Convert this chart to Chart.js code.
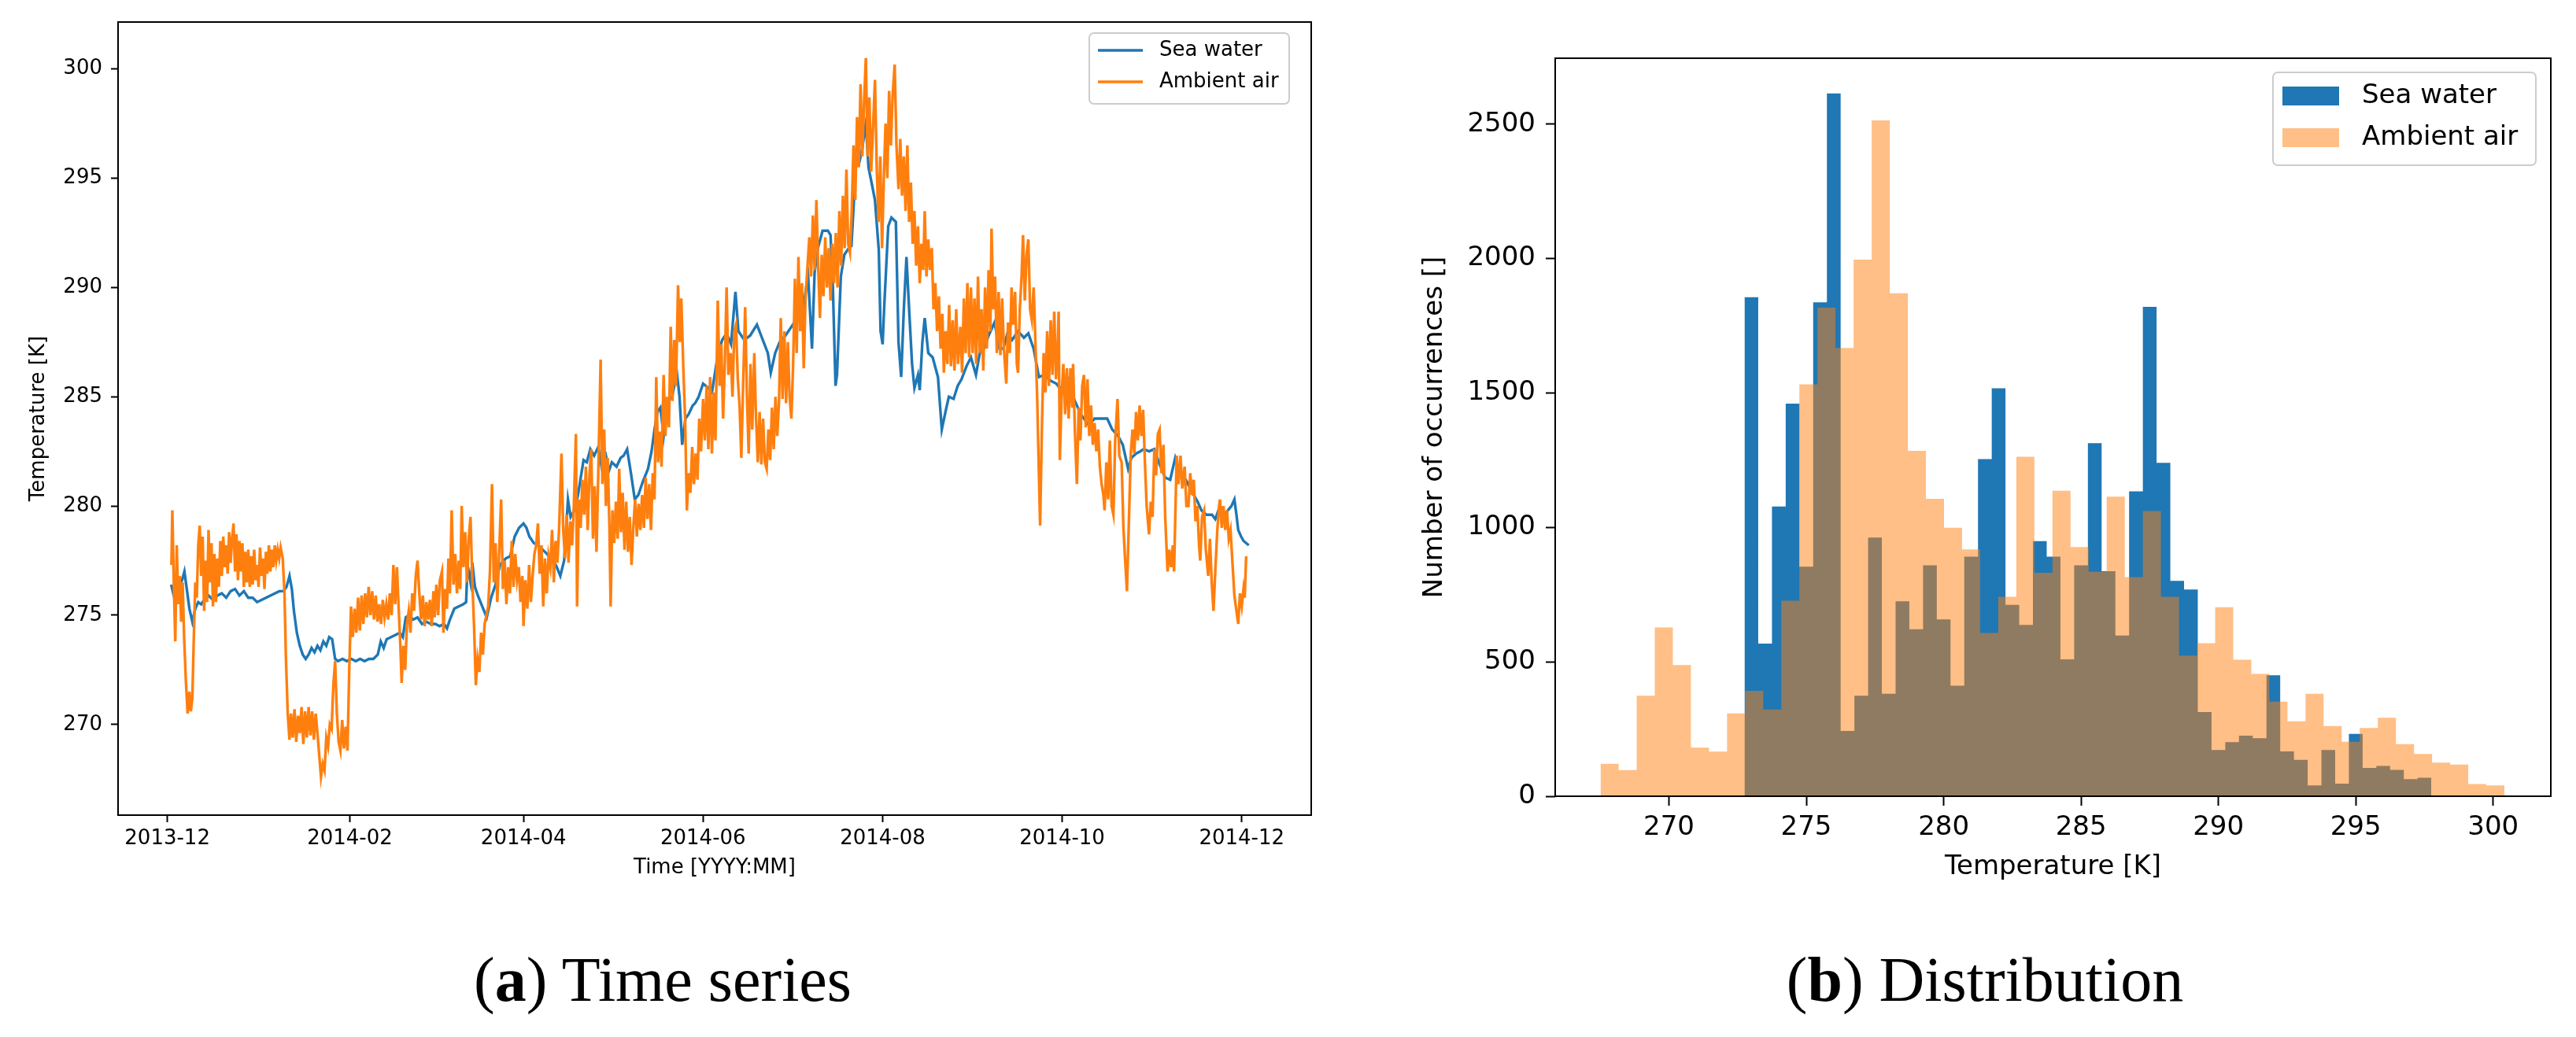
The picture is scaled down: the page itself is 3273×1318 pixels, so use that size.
<!DOCTYPE html>
<html>
<head>
<meta charset="utf-8">
<script src="https://cdn.jsdelivr.net/npm/chart.js@4/dist/chart.umd.min.js"></script>
<style>
  html, body { margin: 0; padding: 0; background: #fff; }
  body { width: 3273px; height: 1318px; position: relative; overflow: hidden; }
  #ts { position: absolute; left: 0; top: 0; }
  #hist { position: absolute; left: 1760px; top: 0; }
  .cap { position: absolute; top: 1205px; width: 1000px; text-align: center;
         font-family: 'Liberation Serif', 'DejaVu Serif', serif; font-size: 80px; line-height: 80px; color: #000; }
</style>
</head>
<body>
<canvas id="ts" width="1700" height="1180"></canvas>
<canvas id="hist" width="1513" height="1180"></canvas>
<div class="cap" style="left:342px">(<b>a</b>) Time series</div>
<div class="cap" style="left:2022px">(<b>b</b>) Distribution</div>
<script>
(function () {
  'use strict';

  // x of the time series = days since 2013-12-01
  var monthDays = [0, 62, 121, 182, 243, 304, 365];
  var monthLabels = ['2013-12', '2014-02', '2014-04', '2014-06', '2014-08', '2014-10', '2014-12'];
  var tempTicks = [270, 275, 280, 285, 290, 295, 300];
  var countTicks = [0, 500, 1000, 1500, 2000, 2500];

  // [day, K]
  var seaSamples = [
    [1.3,276.4],[2.2,275.9],[3.5,276.3],[5.0,276.6],[5.8,277.0],[6.6,276.2],[7.5,275.3],[8.5,274.7],[9.5,275.3],
    [10.5,275.6],[11.5,275.5],[12.5,275.7],[14.0,275.9],[15.5,275.7],[17.0,275.9],[18.5,276.0],[20.0,275.8],
    [21.5,276.1],[23.0,276.2],[24.5,275.9],[26.0,276.1],[27.5,275.8],[29.0,275.8],[30.5,275.6],[32.0,275.7],
    [33.5,275.8],[35.0,275.9],[36.5,276.0],[38.0,276.1],[39.5,276.1],[40.5,276.3],[41.5,276.8],[42.3,276.2],
    [43.0,275.2],[44.0,274.2],[45.0,273.6],[46.0,273.2],[47.0,273.0],[48.0,273.2],[49.0,273.5],[50.0,273.3],
    [51.0,273.6],[52.0,273.4],[53.0,273.8],[54.0,273.6],[55.0,274.0],[56.0,273.9],[57.0,273.0],[58.0,272.9],
    [59.5,273.0],[61.0,272.9],[62.5,273.0],[64.0,272.9],[65.5,273.0],[67.0,272.9],[68.5,273.0],[70.0,273.0],
    [71.5,273.2],[72.5,273.8],[73.5,273.5],[74.5,273.9],[76.0,274.0],[77.5,274.1],[79.0,274.2],[80.0,274.0],
    [81.0,274.9],[82.0,275.0],[83.5,274.8],[85.0,274.9],[86.5,274.6],[88.0,274.7],[89.5,274.6],[91.0,274.6],
    [92.5,274.5],[94.0,274.6],[95.0,274.4],[96.0,274.8],[97.5,275.3],[99.0,275.4],[100.5,275.5],[101.5,275.6],
    [102.0,277.3],[103.0,276.5],[103.6,277.4],[104.5,276.3],[105.5,275.9],[107.0,275.4],[108.5,274.9],
    [110.0,275.8],[111.5,276.4],[113.0,277.3],[115.0,277.6],[116.5,277.7],[118.0,278.6],[119.5,279.0],
    [121.0,279.2],[122.0,279.0],[123.0,278.6],[124.5,278.3],[126.0,278.2],[127.5,278.0],[129.0,277.8],
    [130.5,277.5],[132.0,277.3],[133.5,276.8],[134.8,277.5],[136.1,280.3],[137.0,279.5],[138.3,279.8],
    [139.5,280.5],[141.4,282.1],[142.5,282.0],[143.7,282.6],[145.0,282.3],[146.4,282.7],[147.5,281.8],
    [149.0,282.3],[150.0,281.6],[151.0,282.0],[152.6,281.8],[154.0,282.2],[155.0,282.3],[156.2,282.6],
    [157.5,281.5],[158.8,280.3],[160.0,280.5],[161.5,281.1],[163.3,281.7],[164.5,282.5],[165.5,283.5],
    [166.5,284.3],[167.5,284.5],[168.6,283.2],[170.0,284.8],[171.5,285.0],[173.1,286.1],[174.0,285.0],
    [174.9,282.8],[176.0,284.0],[177.1,284.2],[178.5,284.6],[179.3,284.7],[180.5,285.0],[182.0,285.6],
    [183.8,285.4],[185.0,285.2],[187.0,286.9],[188.5,287.6],[190.0,287.9],[191.5,287.4],[193.0,289.8],
    [194.0,288.0],[196.0,287.6],[198.0,287.8],[200.3,288.3],[202.0,287.7],[204.0,287.0],[205.0,286.1],
    [206.5,287.0],[208.0,287.5],[210.0,287.8],[212.0,288.2],[214.0,288.6],[215.5,288.4],[217.0,290.0],
    [217.7,290.5],[219.0,287.2],[219.9,290.7],[221.0,291.8],[222.6,292.6],[224.4,292.6],[225.3,292.4],
    [226.1,290.0],[227.0,285.5],[227.5,286.0],[228.8,290.5],[230.0,291.5],[231.5,291.8],[232.4,291.9],
    [234.2,296.3],[235.2,295.8],[236.0,296.3],[237.3,297.5],[238.2,295.5],[239.1,294.9],[240.4,294.0],
    [241.7,291.7],[242.3,288.0],[243.0,287.4],[243.5,289.0],[244.9,292.8],[246.0,293.2],[247.5,293.0],
    [248.4,287.5],[249.3,285.9],[250.2,289.0],[251.1,291.4],[252.0,289.0],[253.0,286.5],[253.8,285.4],
    [255.0,286.0],[255.6,285.3],[256.5,287.5],[257.3,288.6],[258.5,287.0],[260.0,286.8],[261.8,285.9],
    [263.1,283.5],[264.5,284.4],[265.5,285.0],[267.1,284.9],[268.5,285.5],[269.8,285.8],[271.5,286.4],
    [273.0,286.8],[274.7,286.0],[276.0,287.0],[277.4,287.2],[279.0,287.8],[281.0,288.4],[282.7,287.2],
    [284.0,287.2],[285.4,287.9],[287.0,287.6],[289.0,288.0],[291.0,287.7],[292.5,287.9],[294.3,287.2],
    [296.1,285.9],[297.9,286.0],[299.5,285.8],[300.5,285.7],[302.0,285.6],[303.2,285.4],[304.5,285.5],
    [305.9,285.8],[308.0,284.9],[310.3,284.2],[313.0,283.7],[315.0,284.0],[317.5,284.0],[319.3,284.0],
    [321.0,283.5],[323.0,283.2],[324.6,282.8],[326.4,281.7],[327.5,282.2],[329.1,282.4],[330.5,282.5],
    [331.7,282.6],[333.5,282.5],[335.3,282.6],[337.1,281.9],[339.0,281.3],[340.7,281.2],[342.4,282.2],
    [344.0,281.5],[346.0,281.2],[347.5,280.8],[348.7,280.5],[350.0,280.2],[351.3,279.8],[353.0,279.6],
    [354.9,279.6],[356.0,279.4],[357.6,280.0],[359.0,279.6],[360.3,279.8],[361.5,280.0],[362.5,280.3],
    [363.2,279.6],[363.8,278.9],[364.8,278.6],[365.6,278.4],[366.5,278.3],[367.4,278.2]
  ];

  var airSamples = [
    [1.4,277.3],[1.7,279.8],[2.2,276.5],[2.7,273.8],[3.2,278.2],[3.7,275.5],[4.2,276.8],[4.7,274.7],[5.2,276.5],
    [5.7,274.0],[6.3,272.0],[6.9,270.5],[7.5,271.5],[8.0,270.6],[8.5,271.2],[9.0,274.0],[9.5,276.5],[10.0,275.8],
    [10.5,278.2],[11.0,279.1],[11.5,276.8],[12.0,278.6],[12.5,275.2],[13.0,277.5],[13.5,275.6],[14.0,278.9],
    [14.5,276.5],[15.0,278.3],[15.5,275.4],[16.0,277.8],[16.5,275.6],[17.0,277.6],[17.5,276.3],[18.0,278.4],
    [18.5,276.8],[19.0,278.6],[19.5,277.2],[20.0,278.2],[20.5,276.9],[21.0,278.8],[21.5,277.4],[22.0,278.5],
    [22.5,279.2],[23.0,277.0],[23.5,278.7],[24.0,276.6],[24.5,278.4],[25.0,277.0],[25.5,278.3],[26.0,276.3],
    [26.5,277.9],[27.0,276.5],[27.5,278.0],[28.0,276.3],[28.5,277.7],[29.0,276.4],[29.5,278.0],[30.0,276.6],
    [30.5,277.3],[31.0,276.3],[31.5,278.1],[32.0,276.8],[32.5,277.6],[33.0,276.2],[33.5,277.9],[34.0,276.9],
    [34.5,278.2],[35.0,277.0],[35.5,278.0],[36.0,277.2],[36.5,278.2],[37.0,277.5],[37.5,278.0],[38.0,277.6],
    [38.5,278.1],[39.2,277.6],[39.8,276.0],[40.3,273.0],[40.9,270.5],[41.5,269.3],[42.0,270.5],[42.6,269.4],
    [43.2,270.7],[43.8,269.2],[44.4,270.4],[45.0,269.6],[45.6,270.8],[46.2,269.1],[46.8,270.6],[47.4,269.4],
    [48.0,270.8],[48.6,269.5],[49.2,270.6],[49.8,269.3],[50.4,270.5],[51.0,269.6],[51.6,268.6],[52.2,267.6],
    [52.8,268.2],[53.4,267.9],[54.0,269.4],[54.6,269.0],[55.2,270.0],[55.8,269.8],[56.4,271.8],[57.0,272.9],
    [57.6,270.5],[58.2,269.2],[58.8,268.8],[59.4,270.2],[60.0,268.9],[60.6,269.9],[61.2,268.8],[61.8,272.5],
    [62.4,275.4],[63.0,274.0],[63.6,275.3],[64.2,274.2],[64.8,275.8],[65.4,274.3],[66.0,275.9],[66.6,274.6],
    [67.2,276.0],[67.8,274.9],[68.4,276.3],[69.0,275.0],[69.6,276.1],[70.2,274.8],[70.8,275.9],[71.4,274.7],
    [72.0,275.5],[72.6,274.6],[73.2,275.7],[73.8,274.9],[74.4,275.5],[75.0,274.8],[75.6,276.0],[76.2,275.0],
    [76.8,277.3],[77.4,275.5],[78.0,277.2],[78.6,275.3],[79.2,273.5],[79.6,271.9],[80.2,273.6],[80.8,272.5],
    [81.4,274.6],[82.0,275.2],[82.6,274.2],[83.2,276.0],[83.8,275.2],[84.4,276.8],[85.0,277.5],[85.6,276.0],
    [86.2,274.8],[86.8,275.9],[87.4,274.5],[88.0,275.6],[88.6,274.8],[89.2,275.7],[89.8,274.5],[90.4,276.1],
    [90.8,274.9],[91.4,276.4],[92.0,275.0],[92.6,276.6],[93.3,277.0],[93.8,274.2],[94.4,276.2],[95.0,275.3],
    [95.5,277.6],[96.0,276.0],[96.6,279.8],[97.2,276.4],[97.8,277.8],[98.4,276.0],[99.0,277.5],[99.5,276.2],
    [100.0,280.0],[100.6,277.2],[101.2,278.8],[101.8,276.5],[102.4,278.5],[103.0,279.5],[103.6,276.6],
    [104.2,274.5],[104.8,271.8],[105.4,273.0],[106.0,272.4],[106.6,274.2],[107.2,273.2],[107.8,274.6],
    [108.4,275.0],[109.0,275.4],[109.6,277.0],[110.3,281.0],[110.9,276.5],[111.5,278.3],[112.1,275.6],
    [112.7,277.8],[113.4,280.3],[114.0,276.2],[114.6,277.5],[115.2,275.5],[115.8,277.2],[116.4,276.0],
    [117.0,278.4],[117.6,276.3],[118.2,277.8],[118.8,276.6],[119.4,277.2],[120.0,275.6],[120.6,276.8],
    [121.0,274.5],[121.6,276.6],[122.3,275.3],[122.9,277.3],[123.5,275.6],[124.1,276.8],[124.7,277.8],
    [125.3,278.2],[125.9,279.2],[126.5,276.9],[127.1,278.2],[127.7,275.4],[128.3,277.6],[128.9,276.0],
    [129.5,277.7],[130.1,277.2],[130.7,278.9],[131.3,276.5],[131.9,278.4],[132.5,277.4],[133.1,279.0],
    [133.9,282.4],[134.5,278.9],[135.1,277.6],[135.7,279.6],[136.3,277.4],[136.9,279.3],[137.5,278.2],
    [138.1,280.0],[138.8,283.3],[139.2,275.4],[139.8,280.3],[140.4,279.0],[141.0,281.2],[141.6,279.6],
    [142.2,281.8],[142.8,278.9],[143.4,281.4],[144.0,282.6],[144.6,278.5],[145.2,280.9],[145.8,277.9],
    [146.4,281.5],[147.2,286.7],[147.8,281.0],[148.4,283.5],[149.0,280.0],[149.6,282.2],[150.2,279.0],
    [150.6,275.4],[151.2,279.8],[151.8,278.3],[152.4,280.2],[153.0,278.5],[153.5,281.7],[154.1,278.8],
    [154.7,280.6],[155.3,278.0],[155.9,280.2],[156.5,277.9],[157.1,279.5],[157.7,277.3],[158.3,279.0],
    [158.9,280.3],[159.5,278.6],[160.1,280.1],[160.7,278.9],[161.3,280.5],[161.9,279.0],[162.5,281.3],
    [163.1,279.4],[163.7,281.0],[164.3,278.9],[164.9,281.5],[165.5,280.3],[166.1,285.9],[166.7,282.0],
    [167.3,283.4],[167.9,281.8],[168.6,286.0],[169.2,283.2],[169.8,285.0],[170.4,283.6],[171.0,288.2],
    [171.6,284.8],[172.2,287.6],[172.8,285.5],[173.5,290.1],[174.1,287.5],[174.6,289.5],[175.3,286.3],
    [175.9,284.0],[176.5,279.8],[177.1,281.5],[177.7,280.6],[178.3,282.7],[178.9,281.0],[179.5,282.4],
    [180.1,281.2],[180.7,284.0],[181.3,282.5],[182.0,284.9],[182.6,283.0],[183.2,285.5],[183.8,282.6],
    [184.4,285.9],[185.0,282.4],[185.6,285.2],[186.2,283.0],[187.0,289.4],[187.6,285.5],[188.2,287.4],
    [188.8,284.0],[189.4,286.6],[190.0,290.0],[190.6,286.0],[191.4,287.0],[192.0,285.0],[192.6,288.0],
    [193.2,288.3],[193.8,285.8],[194.4,284.6],[195.0,282.2],[195.6,285.5],[196.3,289.1],[196.9,285.0],
    [197.5,282.4],[198.1,286.5],[198.7,283.5],[199.4,287.0],[200.0,284.0],[200.6,282.0],[201.2,284.3],
    [201.8,281.9],[202.4,284.0],[203.0,282.0],[203.6,281.7],[204.2,283.5],[204.8,282.1],[205.4,284.5],
    [206.0,282.6],[206.6,285.0],[207.2,283.2],[207.8,284.8],[208.4,288.6],[209.0,284.9],[209.6,288.0],
    [210.2,284.7],[210.8,287.5],[211.4,285.0],[212.0,284.0],[212.6,286.5],[213.2,290.4],[213.8,287.0],
    [214.4,291.4],[215.0,288.0],[215.6,290.2],[216.2,286.3],[216.8,289.5],[217.4,290.8],[218.1,292.3],
    [218.7,290.5],[219.3,293.3],[219.9,290.8],[220.5,294.0],[221.1,291.0],[221.7,288.6],[222.3,291.5],
    [222.9,289.6],[223.5,292.3],[224.1,290.0],[224.7,291.8],[225.3,289.4],[225.9,292.0],[226.5,290.2],
    [227.1,292.5],[227.7,290.0],[228.3,293.5],[228.9,291.0],[229.5,294.2],[230.1,291.8],[230.7,295.4],
    [231.3,292.0],[231.9,291.6],[232.5,293.5],[233.1,296.5],[233.7,294.0],[234.3,297.8],[234.9,295.5],
    [235.5,299.3],[236.1,296.0],[236.7,298.5],[237.3,300.5],[237.9,296.0],[238.5,298.7],[239.1,295.3],
    [239.7,297.2],[240.4,299.5],[241.0,295.5],[241.6,293.0],[242.2,296.0],[242.8,291.8],[243.4,295.0],
    [244.0,297.5],[244.6,295.0],[245.2,299.0],[245.8,296.5],[246.4,298.8],[247.1,300.2],[247.7,296.5],
    [248.4,294.5],[249.0,296.8],[249.6,294.2],[250.2,296.0],[250.8,293.5],[251.4,296.5],[252.0,293.0],
    [252.6,294.8],[253.2,292.0],[253.8,293.5],[254.4,291.0],[255.0,292.8],[255.6,290.2],[256.2,292.0],
    [256.8,290.8],[257.3,293.5],[257.9,290.5],[258.5,292.2],[259.1,290.8],[259.7,291.8],[260.3,289.0],
    [260.9,290.2],[261.5,288.0],[262.1,289.6],[262.7,287.2],[263.3,288.8],[263.8,286.1],[264.4,288.0],
    [265.0,286.5],[265.6,289.2],[266.2,286.4],[266.8,288.5],[267.4,286.2],[268.0,289.0],[268.6,286.5],
    [269.4,288.2],[270.0,286.1],[270.6,289.5],[271.2,287.0],[271.8,290.2],[272.4,286.8],[273.0,290.0],
    [273.6,287.0],[274.2,289.5],[274.8,286.5],[275.4,290.5],[276.0,287.0],[276.6,289.0],[277.2,286.2],
    [277.8,290.0],[278.4,287.2],[279.0,290.8],[279.6,288.0],[280.0,292.7],[280.6,289.0],[281.2,290.5],
    [281.8,287.0],[282.4,289.8],[283.0,286.9],[283.6,289.5],[284.2,287.2],[285.0,285.6],[285.6,288.4],
    [286.2,287.0],[286.8,290.0],[287.4,288.3],[288.0,289.8],[288.6,286.5],[289.0,286.1],[289.6,289.0],
    [290.2,290.5],[290.7,292.4],[291.3,289.4],[291.9,291.5],[292.5,292.2],[293.1,289.0],[293.7,288.5],
    [294.3,290.0],[294.9,287.5],[295.5,285.0],[296.0,282.0],[296.5,279.1],[297.1,283.5],[297.7,287.0],
    [298.3,285.2],[298.9,288.0],[299.5,285.5],[300.1,288.5],[300.7,286.0],[301.3,288.9],[301.9,285.8],
    [302.5,287.5],[302.8,288.9],[303.2,282.1],[303.8,285.0],[304.4,286.5],[305.0,284.2],[305.6,286.3],
    [306.2,284.0],[306.8,286.3],[307.4,284.5],[307.7,286.5],[308.3,283.5],[309.0,281.0],[309.6,284.5],
    [310.2,283.0],[310.8,285.5],[311.4,286.0],[312.0,283.6],[312.6,285.8],[313.2,283.2],[313.8,284.6],
    [314.4,282.8],[315.0,283.8],[315.6,282.5],[316.2,283.5],[316.8,281.8],[317.4,281.0],[318.0,280.5],
    [318.4,279.8],[319.0,282.0],[319.6,280.3],[320.2,283.0],[320.8,280.0],[321.4,279.6],[322.0,283.0],
    [322.8,284.9],[323.4,282.3],[324.2,282.0],[324.8,279.0],[325.4,277.5],[326.0,276.1],[326.6,279.0],
    [327.3,282.4],[327.9,283.5],[328.5,282.4],[329.1,284.3],[329.7,283.0],[330.3,284.6],[330.9,283.2],
    [331.5,284.4],[332.1,282.0],[332.7,280.0],[333.5,278.7],[334.1,280.2],[334.7,279.5],[335.3,282.6],
    [335.9,281.4],[336.5,283.3],[337.1,283.5],[337.7,281.5],[338.4,282.8],[339.0,279.5],[339.8,277.0],
    [340.4,278.0],[341.0,277.2],[341.6,278.2],[342.0,277.0],[342.9,282.3],[343.5,281.0],[344.2,282.3],
    [344.8,280.8],[345.6,281.8],[346.2,280.0],[346.9,280.0],[347.5,281.5],[348.1,280.5],[348.7,281.2],
    [349.3,279.3],[349.9,280.0],[350.5,278.2],[350.9,277.5],[351.5,279.5],[352.2,279.8],[352.8,278.0],
    [353.6,276.8],[354.2,278.5],[354.8,276.5],[355.4,275.2],[356.0,277.0],[356.7,278.9],[357.3,280.0],
    [357.6,280.3],[358.2,279.0],[358.8,280.0],[359.4,278.9],[360.0,279.8],[360.6,278.5],[361.2,278.9],
    [361.8,277.5],[362.5,275.9],[363.1,275.3],[363.8,274.6],[364.4,276.0],[365.0,275.4],[365.6,276.2],
    [366.0,275.8],[366.5,277.7]
  ];

  // histogram bins (K) and counts
  var seaBinStart = 272.75, seaBinWidth = 0.5;
  var seaCounts = [
    1856, 568, 1078, 1460, 854, 1837, 2614, 243, 374, 962,
    381, 725, 621, 859, 658, 411, 891, 1254, 1517, 712,
    637, 949, 891, 509, 859, 1313, 837, 598, 1134, 1820,
    1240, 801, 769, 313, 172, 201, 225, 216, 450, 167,
    135, 40, 172, 47, 232, 105, 113, 98, 64, 69
  ];
  var airBinStart = 267.51, airBinWidth = 0.658;
  var airCounts = [
    121, 97, 374, 628, 488, 181, 166, 308, 392, 323,
    727, 1532, 1817, 1667, 1996, 2514, 1871, 1285, 1106, 999,
    918, 607, 742, 1263, 831, 1136, 927, 835, 1114, 815,
    1061, 742, 523, 569, 703, 508, 455, 352, 279, 381,
    261, 203, 254, 292, 194, 157, 125, 118, 45, 40
  ];

  var BLUE = '#1f77b4';
  var ORANGE = '#ff7f0e';
  var ORANGE_HALF = 'rgba(255,127,14,0.5)';

  function toPoints(samples) {
    return samples.map(function (s) { return { x: s[0], y: s[1] }; });
  }

  function stepPoints(start, width, counts) {
    var pts = counts.map(function (c, i) { return { x: start + i * width, y: c }; });
    pts.push({ x: start + counts.length * width, y: counts[counts.length - 1] });
    return pts;
  }

  function roundRect(ctx, x, y, w, h, r) {
    ctx.beginPath();
    ctx.moveTo(x + r, y);
    ctx.arcTo(x + w, y, x + w, y + h, r);
    ctx.arcTo(x + w, y + h, x, y + h, r);
    ctx.arcTo(x, y + h, x, y, r);
    ctx.arcTo(x, y, x + w, y, r);
    ctx.closePath();
  }

  // axes box + legend inside the plot, matplotlib style
  function boxLegend(cfg) {
    return {
      id: 'boxLegend',
      afterDraw: function (chart) {
        var ctx = chart.ctx, a = chart.chartArea;
        ctx.save();
        ctx.strokeStyle = '#000';
        ctx.lineWidth = 2;
        ctx.strokeRect(a.left, a.top, a.right - a.left, a.bottom - a.top);

        var x0 = a.right - cfg.right - cfg.w, y0 = a.top + cfg.top;
        roundRect(ctx, x0, y0, cfg.w, cfg.h, 6);
        ctx.fillStyle = 'rgba(255,255,255,0.8)';
        ctx.fill();
        ctx.strokeStyle = '#cccccc';
        ctx.lineWidth = 2;
        ctx.stroke();

        ctx.font = cfg.fontSize + 'px "DejaVu Sans"';
        ctx.textBaseline = 'middle';
        ctx.textAlign = 'left';
        cfg.items.forEach(function (it, i) {
          var yc = y0 + cfg.firstY + i * cfg.gap;
          if (cfg.patch) {
            ctx.fillStyle = it.color;
            ctx.fillRect(x0 + cfg.swX, yc - cfg.patchH / 2, cfg.swW, cfg.patchH);
          } else {
            ctx.strokeStyle = it.color;
            ctx.lineWidth = 3.5;
            ctx.beginPath();
            ctx.moveTo(x0 + cfg.swX, yc);
            ctx.lineTo(x0 + cfg.swX + cfg.swW, yc);
            ctx.stroke();
          }
          ctx.fillStyle = '#000';
          ctx.fillText(it.text, x0 + cfg.textX, yc);
        });
        ctx.restore();
      }
    };
  }

  function fixedTicks(values) {
    return function (axis) {
      axis.ticks = values.map(function (v) { return { value: v }; });
    };
  }

  function plain(v) { return String(v); }

  // ---- (a) time series ----
  var fA = { family: 'DejaVu Sans', size: 26 };
  new Chart(document.getElementById('ts'), {
    type: 'line',
    data: {
      datasets: [{
        label: 'Ambient air',
        data: toPoints(airSamples),
        borderColor: ORANGE,
        borderWidth: 3.4,
        pointRadius: 0,
        tension: 0,
        order: 1
      }, {
        label: 'Sea water',
        data: toPoints(seaSamples),
        borderColor: BLUE,
        borderWidth: 3.4,
        pointRadius: 0,
        tension: 0,
        order: 2
      }]
    },
    options: {
      responsive: false,
      animation: false,
      devicePixelRatio: 1,
      events: [],
      layout: { padding: { left: 0, top: 28, right: 34, bottom: 0 } },
      plugins: { legend: { display: false }, tooltip: { enabled: false } },
      scales: {
        x: {
          type: 'linear',
          min: -16.74,
          max: 388.6,
          afterBuildTicks: fixedTicks(monthDays),
          afterFit: function (s) { s.height = 144; },
          ticks: {
            autoSkip: false, maxRotation: 0, color: '#000', font: fA, padding: 6,
            callback: function (v) { return monthLabels[monthDays.indexOf(v)]; }
          },
          grid: { drawOnChartArea: false, drawTicks: true, tickLength: 9, tickWidth: 2, tickColor: '#000' },
          border: { display: false },
          title: { display: true, text: 'Time [YYYY:MM]', color: '#000', font: fA, padding: { top: 0, bottom: 61 } }
        },
        y: {
          min: 265.85,
          max: 302.15,
          afterBuildTicks: fixedTicks(tempTicks),
          afterFit: function (s) { s.width = 150; },
          ticks: { color: '#000', font: fA, padding: 11, callback: plain },
          grid: { drawOnChartArea: false, drawTicks: true, tickLength: 9, tickWidth: 2, tickColor: '#000' },
          border: { display: false },
          title: { display: true, text: 'Temperature [K]', color: '#000', font: fA, padding: { top: 34, bottom: 0 } }
        }
      }
    },
    plugins: [boxLegend({
      right: 28, top: 14, w: 254, h: 90, fontSize: 26,
      firstY: 22, gap: 40, swX: 11, swW: 57, textX: 89,
      items: [{ text: 'Sea water', color: BLUE }, { text: 'Ambient air', color: ORANGE }]
    })]
  });

  // ---- (b) distribution ----
  var fB = { family: 'DejaVu Sans', size: 34 };
  new Chart(document.getElementById('hist'), {
    type: 'line',
    data: {
      datasets: [{
        label: 'Ambient air',
        data: stepPoints(airBinStart, airBinWidth, airCounts),
        stepped: 'before',
        fill: 'origin',
        backgroundColor: ORANGE_HALF,
        borderColor: 'rgba(0,0,0,0)',
        borderWidth: 0,
        pointRadius: 0,
        order: 1
      }, {
        label: 'Sea water',
        data: stepPoints(seaBinStart, seaBinWidth, seaCounts),
        stepped: 'before',
        fill: 'origin',
        backgroundColor: BLUE,
        borderColor: 'rgba(0,0,0,0)',
        borderWidth: 0,
        pointRadius: 0,
        order: 2
      }]
    },
    options: {
      responsive: false,
      animation: false,
      devicePixelRatio: 1,
      events: [],
      layout: { padding: { left: 0, top: 74, right: 32, bottom: 0 } },
      plugins: { legend: { display: false }, tooltip: { enabled: false } },
      scales: {
        x: {
          type: 'linear',
          min: 265.86,
          max: 302.1,
          afterBuildTicks: fixedTicks(tempTicks),
          afterFit: function (s) { s.height = 168; },
          ticks: { autoSkip: false, maxRotation: 0, color: '#000', font: fB, padding: 8, callback: plain },
          grid: { drawOnChartArea: false, drawTicks: true, tickLength: 12, tickWidth: 2, tickColor: '#000' },
          border: { display: false },
          title: { display: true, text: 'Temperature [K]', color: '#000', font: fB, padding: { top: 0, bottom: 57 } }
        },
        y: {
          min: 0,
          max: 2745,
          afterBuildTicks: fixedTicks(countTicks),
          afterFit: function (s) { s.width = 216; },
          ticks: { color: '#000', font: fB, padding: 13, callback: plain },
          grid: { drawOnChartArea: false, drawTicks: true, tickLength: 12, tickWidth: 2, tickColor: '#000' },
          border: { display: false },
          title: { display: true, text: 'Number of occurrences []', color: '#000', font: fB, padding: { top: 43, bottom: 0 } }
        }
      }
    },
    plugins: [boxLegend({
      right: 19, top: 18, w: 334, h: 118, fontSize: 34, patch: true, patchH: 24,
      firstY: 30, gap: 53, swX: 12, swW: 72, textX: 113,
      items: [{ text: 'Sea water', color: BLUE }, { text: 'Ambient air', color: ORANGE_HALF }]
    })]
  });
})();
</script>
</body>
</html>
